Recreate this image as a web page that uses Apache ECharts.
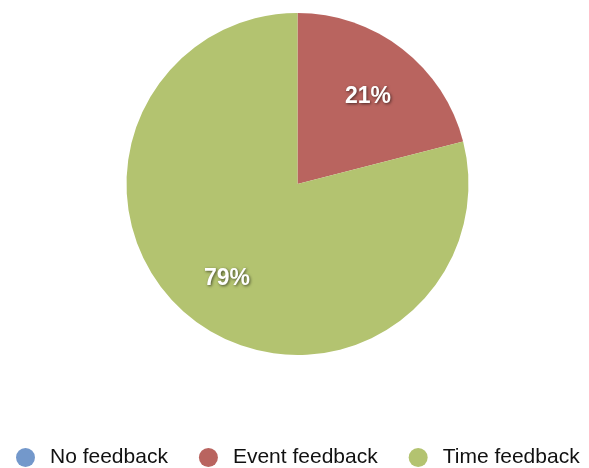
<!DOCTYPE html>
<html>
<head>
<meta charset="utf-8">
<script src="https://cdn.jsdelivr.net/npm/echarts@6/dist/echarts.min.js"></script>
<style>
  html, body { margin: 0; padding: 0; background: #fff; }
  #chart { width: 589px; height: 468px; }
</style>
</head>
<body>
<div id="chart"></div>
<script>
  // data
  const categories = ['No feedback', 'Event feedback', 'Time feedback'];
  const values = [0, 21, 79];
  const colors = ['#7398cb', '#b9645f', '#b3c370'];

  const pieData = categories.map((name, i) => ({ name: name, value: values[i] }));

  const myChart = echarts.init(document.getElementById('chart'), null, { renderer: 'canvas' });

  const valueStyle = {
    color: '#fff',
    fontFamily: 'Liberation Sans, Arial, sans-serif',
    fontWeight: 'bold',
    fontSize: 23,
    textShadowColor: 'rgba(0,0,0,0.6)',
    textShadowBlur: 3,
    textShadowOffsetX: 1,
    textShadowOffsetY: 1,
  };

  const option = {
    animation: false,
    color: colors,
    legend: {
      top: 447,
      left: 16,
      padding: 0,
      icon: 'circle',
      itemWidth: 19,
      itemHeight: 19,
      itemGap: 31,
      data: categories,
      textStyle: {
        fontFamily: 'Liberation Sans, Arial, sans-serif',
        fontSize: 21,
        color: '#111',
        padding: [0, 0, 0, 10],
      },
    },
    series: [
      {
        // the visible pie
        type: 'pie',
        center: [297.5, 184],
        radius: [0, 171],
        startAngle: 90,
        clockwise: true,
        silent: true,
        label: { show: false },
        labelLine: { show: false },
        data: pieData,
      },
      {
        // transparent copy, only to put the labels further out
        type: 'pie',
        center: [297.5, 184],
        radius: [53, 171],
        startAngle: 90,
        clockwise: true,
        silent: true,
        itemStyle: { color: 'rgba(0,0,0,0)' },
        label: {
          show: true,
          position: 'inside',
          // empty first line just nudges the number down a little
          formatter: (p) => (p.value > 0 ? '{gap|}\n{v|' + p.value + '%}' : ''),
          rich: {
            gap: { lineHeight: 7, fontSize: 1 },
            v: valueStyle,
          },
        },
        labelLine: { show: false },
        data: pieData,
      },
    ],
  };

  myChart.setOption(option);
</script>
</body>
</html>
